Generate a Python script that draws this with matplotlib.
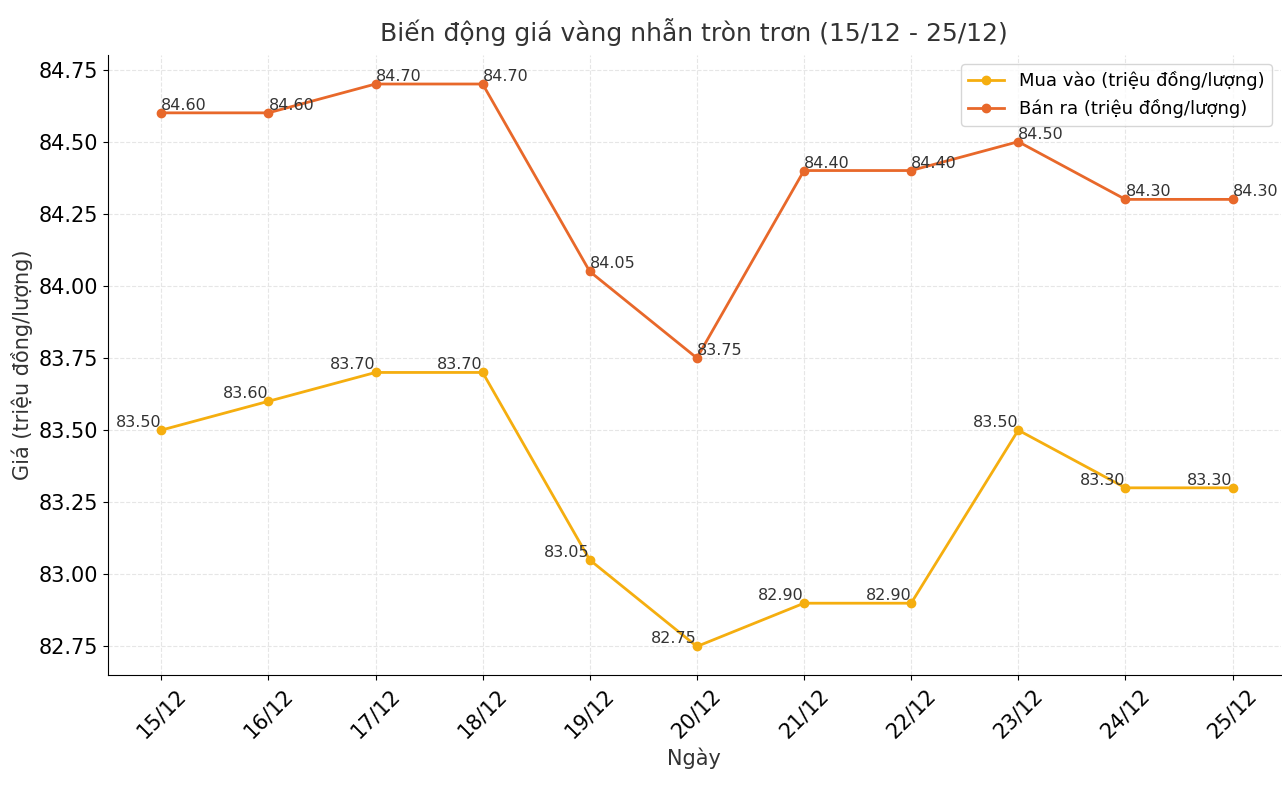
import matplotlib.pyplot as plt

# ==== data ====
days = ["15/12", "16/12", "17/12", "18/12", "19/12", "20/12",
        "21/12", "22/12", "23/12", "24/12", "25/12"]
buy = [83.50, 83.60, 83.70, 83.70, 83.05, 82.75, 82.90, 82.90, 83.50, 83.30, 83.30]
sell = [84.60, 84.60, 84.70, 84.70, 84.05, 83.75, 84.40, 84.40, 84.50, 84.30, 84.30]

buy_color = "#F5AE0F"
sell_color = "#E8682A"

fig, ax = plt.subplots(figsize=(12.82, 7.88), dpi=100)
x = range(len(days))

ax.plot(x, buy, marker="o", color=buy_color, linewidth=2, markersize=6,
        label="Mua vào (triệu đồng/lượng)")
ax.plot(x, sell, marker="o", color=sell_color, linewidth=2, markersize=6,
        label="Bán ra (triệu đồng/lượng)")

for i, v in enumerate(buy):
    ax.text(i, v, f"{v:.2f}", ha="right", va="bottom", fontsize=11.5, color="#333333")
for i, v in enumerate(sell):
    ax.text(i, v, f"{v:.2f}", ha="left", va="bottom", fontsize=11.5, color="#333333")

ax.set_xticks(list(x))
ax.set_xticklabels(days, rotation=45, fontsize=15)
ax.tick_params(axis="y", labelsize=15)
ax.set_xlim(-0.5, 10.45)
ax.set_ylim(82.65, 84.80)
ax.set_yticks([82.75, 83.00, 83.25, 83.50, 83.75, 84.00, 84.25, 84.50, 84.75])

ax.set_title("Biến động giá vàng nhẫn tròn trơn (15/12 - 25/12)", fontsize=18,
             color="#333333", pad=10)
ax.set_xlabel("Ngày", fontsize=15, color="#333333")
ax.set_ylabel("Giá (triệu đồng/lượng)", fontsize=15, color="#333333")

ax.grid(True, linestyle="--", color="#e6e6e6", linewidth=0.8)
ax.spines["top"].set_visible(False)
ax.spines["right"].set_visible(False)
ax.legend(loc="upper right", fontsize=13)

plt.subplots_adjust(left=0.084, right=0.999, top=0.93, bottom=0.143)
plt.savefig("out.png", dpi=100)
